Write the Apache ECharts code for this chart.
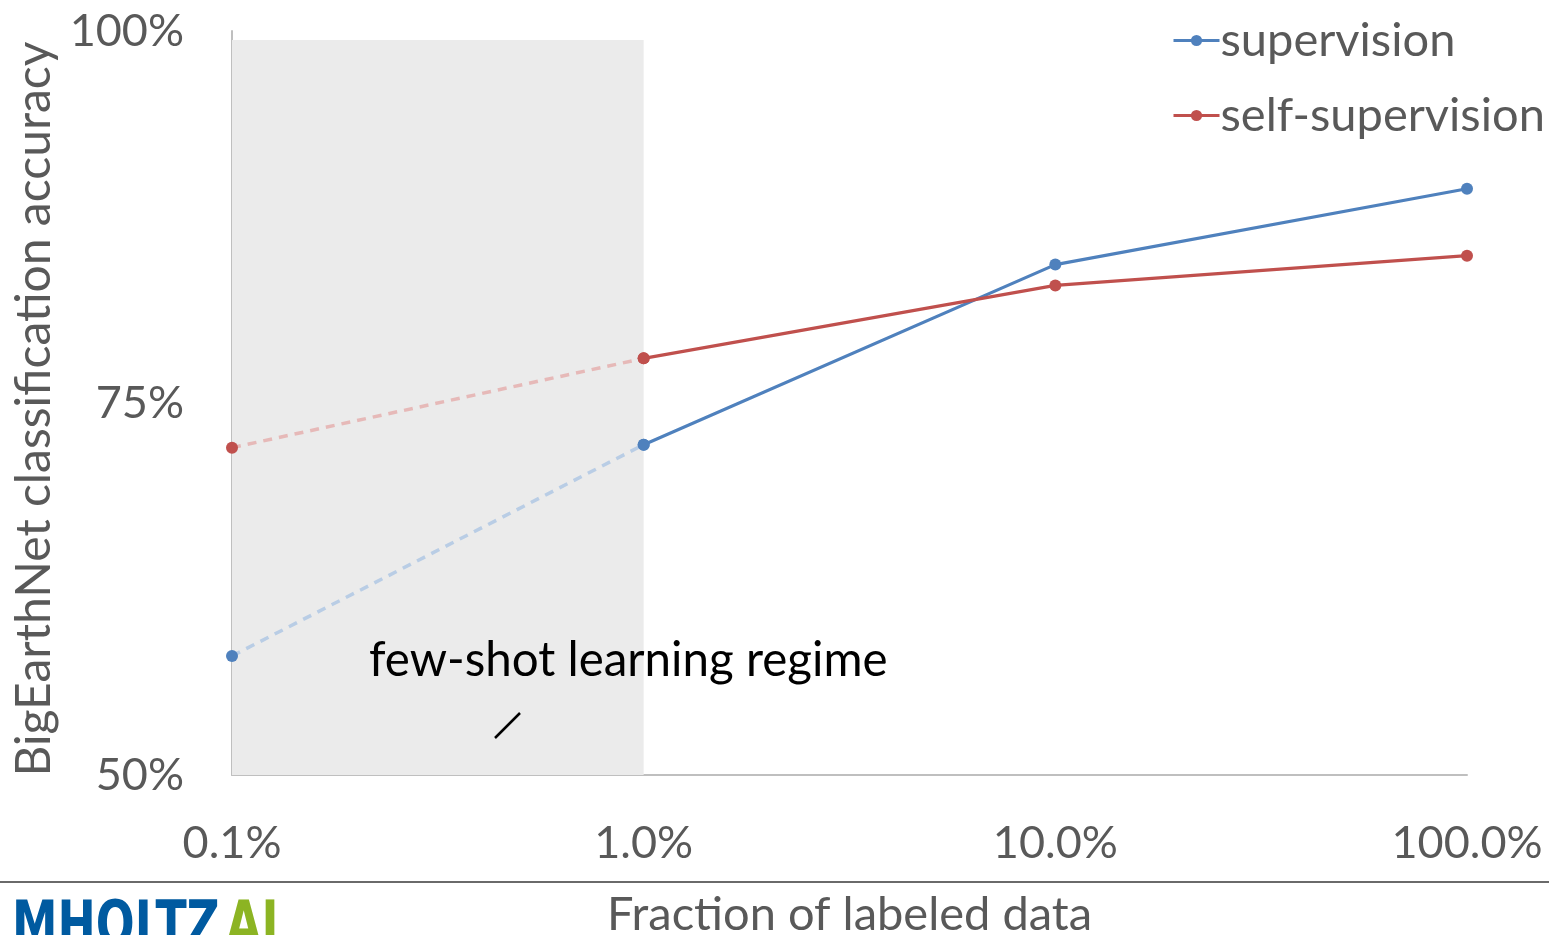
<!DOCTYPE html>
<html>
<head>
<meta charset="utf-8">
<title>BigEarthNet accuracy vs labeled data</title>
<script src="https://cdn.jsdelivr.net/npm/echarts@6/dist/echarts.min.js"></script>
<style>
  html, body { margin: 0; padding: 0; background: #fff; }
  #chart { width: 1549px; height: 935px; }
</style>
</head>
<body>
<div id="chart"></div>
<script>
// Fraction of labeled data (x categories)
const fractions = ['0.1%', '1.0%', '10.0%', '100.0%'];
// Classification accuracy in percent
const supervision = [58.0, 72.2, 84.3, 89.4];
const selfSupervision = [72.0, 78.0, 82.9, 84.9];
// Y ticks
const yMin = 50, yMax = 100, yStep = 25;
// Few-shot regime band (x range, upper y value)
const fewShotRange = ['0.1%', '1.0%'];
const fewShotTop = 99.4;

const BLUE = '#4f81bd', RED = '#c0504d';
const BLUE_PALE = '#b9cde5', RED_PALE = '#e6b9b8';
const GREY = '#595959';
const FONT = 'Lato, "Open Sans", sans-serif';
const LOGO_FONT = 'bold 62px "DejaVu Sans Condensed", "Liberation Sans Narrow", sans-serif';

// Few-shot part (first two points) is drawn dashed and pale, the rest solid
const head = arr => arr.map((v, i) => (i <= 1 ? v : null));
const tail = arr => arr.map((v, i) => (i >= 1 ? v : null));

const chart = echarts.init(document.getElementById('chart'), null, { renderer: 'canvas' });

chart.setOption({
  animation: false,
  textStyle: { fontFamily: FONT },
  grid: { left: 232, right: 82, top: 31, bottom: 160, outerBoundsMode: 'none', containLabel: false },
  legend: {
    data: ['supervision', 'self-supervision'],
    orient: 'vertical',
    left: 1167,
    top: 12,
    itemGap: 28,
    itemWidth: 46,
    itemHeight: 14,
    lineStyle: { width: 3 },
    textStyle: { fontSize: 47, color: GREY, fontFamily: FONT, padding: [0, 0, 0, -4] }
  },
  xAxis: {
    type: 'category',
    data: fractions,
    boundaryGap: false,
    axisLine: { show: true, lineStyle: { color: '#bfbfbf', width: 2 } },
    axisTick: { show: false },
    splitLine: { show: false },
    axisLabel: { color: GREY, fontSize: 45, margin: 46, fontFamily: FONT },
    name: 'Fraction of labeled data',
    nameLocation: 'middle',
    nameGap: 116,
    nameTextStyle: { color: GREY, fontSize: 47, fontFamily: FONT, verticalAlign: 'top' }
  },
  yAxis: {
    type: 'value',
    min: yMin,
    max: yMax,
    interval: yStep,
    axisLine: { show: true, lineStyle: { color: '#bfbfbf', width: 2 } },
    axisTick: { show: false },
    splitLine: { show: false },
    axisLabel: { color: GREY, fontSize: 45, margin: 48, fontFamily: FONT, formatter: '{value}%' },
    name: 'BigEarthNet classification accuracy',
    nameLocation: 'middle',
    nameGap: 197,
    nameRotate: 90,
    nameTextStyle: { color: GREY, fontSize: 48, fontFamily: FONT, verticalAlign: 'middle', padding: [0, 12, 0, 0] }
  },
  series: [
    {
      name: 'supervision',
      type: 'line',
      data: tail(supervision),
      symbol: 'circle',
      symbolSize: 12,
      lineStyle: { color: BLUE, width: 3.2 },
      itemStyle: { color: BLUE },
      z: 4,
      markArea: {
        silent: true,
        itemStyle: { color: '#ebebeb' },
        data: [[{ xAxis: fewShotRange[0], yAxis: yMin }, { xAxis: fewShotRange[1], yAxis: fewShotTop }]]
      }
    },
    {
      name: 'self-supervision',
      type: 'line',
      data: tail(selfSupervision),
      symbol: 'circle',
      symbolSize: 12,
      lineStyle: { color: RED, width: 3.2 },
      itemStyle: { color: RED },
      z: 4
    },
    {
      name: 'supervision (few-shot)',
      type: 'line',
      data: head(supervision),
      symbol: 'circle',
      symbolSize: 12,
      lineStyle: { color: BLUE_PALE, width: 3.5, type: [9, 7] },
      itemStyle: { color: BLUE },
      z: 3
    },
    {
      name: 'self-supervision (few-shot)',
      type: 'line',
      data: head(selfSupervision),
      symbol: 'circle',
      symbolSize: 12,
      lineStyle: { color: RED_PALE, width: 3.5, type: [9, 7] },
      itemStyle: { color: RED },
      z: 3
    }
  ],
  graphic: [
    {
      type: 'text',
      left: 369,
      top: 637,
      z: 100,
      style: { text: 'few-shot learning regime', fill: '#000', font: '47.5px ' + FONT }
    },
    {
      type: 'line',
      z: 100,
      shape: { x1: 495, y1: 738, x2: 520, y2: 713 },
      style: { stroke: '#000', lineWidth: 2.5 }
    },
    {
      type: 'line',
      z: 100,
      shape: { x1: 0, y1: 882, x2: 1549, y2: 882 },
      style: { stroke: '#6a6a6a', lineWidth: 2 }
    },
    {
      type: 'text',
      x: 12,
      y: 898,
      scaleX: 0.82,
      z: 100,
      style: { text: 'MHOLTZ', fill: '#005aa0', font: LOGO_FONT }
    },
    {
      type: 'text',
      x: 226,
      y: 898,
      scaleX: 0.82,
      z: 100,
      style: { text: 'AI', fill: '#8cb423', font: LOGO_FONT }
    }
  ]
});
</script>
</body>
</html>
